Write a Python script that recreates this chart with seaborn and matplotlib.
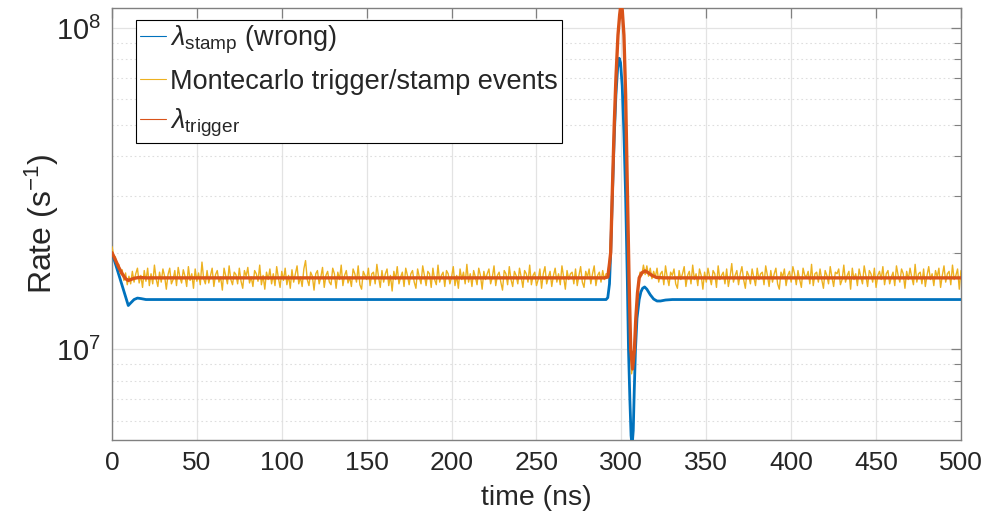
import numpy as np
import matplotlib
matplotlib.use("Agg")
import matplotlib.pyplot as plt
from matplotlib.ticker import LogLocator, LogFormatterMathtext, NullFormatter, MultipleLocator
import seaborn as sns

# ---- data (rates in units of 1e6 s^-1, time in ns) ----
# lambda_stamp (wrong) model curve
stamp_time = [0, 2, 4, 6, 8, 9.6, 11, 13, 15, 17, 20,
              290, 291, 292, 293, 293.7, 294.6, 295.8, 296.8, 297.8, 298.7,
              299.5, 300.5, 301.5, 302.5, 303.5, 304.2, 305, 305.7, 306.3, 307,
              307.6, 308.3, 309.2, 310.5, 311.5, 312.5, 313.7, 315, 317, 319,
              321, 323, 326, 330, 500]
stamp_rate = [20.0, 18.5, 17.1, 15.8, 14.6, 13.7, 13.95, 14.3, 14.45, 14.4, 14.3,
              14.3, 14.3, 14.5, 16.0, 20.0, 29.0, 46.0, 62.0, 75.0, 80.5,
              78.0, 66.0, 47.0, 30.0, 16.5, 10.0, 7.0, 5.4, 5.0, 5.6,
              7.5, 10.0, 12.5, 14.3, 15.1, 15.5, 15.65, 15.4, 14.8, 14.35,
              14.15, 14.15, 14.25, 14.3, 14.3]

# lambda_trigger model curve
trigger_time = [0, 2, 4, 6, 8, 9.6, 11, 13, 16, 20,
                290, 292, 293, 293.7, 294.6, 295.8, 296.8, 298, 299, 299.7,
                300.5, 301.5, 302.5, 303.6, 304.5, 305.5, 306.6, 307.7, 308.5, 309.5,
                310.5, 312, 314, 316, 318, 320.7, 325, 500]
trigger_rate = [20.0, 19.0, 18.0, 17.2, 16.6, 16.4, 16.5, 16.65, 16.75, 16.7,
                16.7, 16.8, 18.5, 20.0, 30.0, 50.0, 70.0, 95.0, 110.0, 118.0,
                114.0, 95.0, 62.0, 30.0, 16.7, 10.0, 8.7, 10.0, 12.5, 15.0,
                16.7, 17.3, 17.55, 17.3, 17.0, 16.75, 16.7, 16.7]

# Montecarlo trigger/stamp event rate, one sample per ns (t = 0 ... 500)
mc_rate = [
    # 0-19
    20.9, 19.6, 19.4, 18.3, 18.4, 17.2, 17.7, 16.4, 17.3, 15.9, 16.9, 16.0, 17.5, 16.2, 17.2, 17.9, 16.1, 17.0, 15.6, 17.6,
    # 20-39
    16.3, 17.9, 15.8, 17.2, 16.0, 18.3, 16.6, 15.7, 17.4, 16.2, 17.8, 16.9, 15.4, 17.1, 17.9, 16.0, 16.5, 17.6, 15.8, 18.0,
    # 40-59
    16.8, 16.1, 17.7, 16.9, 15.7, 18.1, 16.4, 17.2, 15.5, 17.8, 16.3, 17.3, 15.9, 18.7, 16.6, 16.0, 17.6, 16.1, 17.0, 17.9,
    # 60-79
    15.7, 17.1, 17.6, 16.2, 16.8, 15.3, 17.9, 16.9, 16.0, 18.2, 16.5, 15.9, 17.4, 17.1, 16.0, 17.9, 16.3, 15.5, 17.6, 16.9,
    # 80-99
    18.0, 16.1, 16.8, 15.7, 17.6, 17.2, 16.3, 18.3, 15.9, 17.0, 15.4, 17.4, 16.5, 17.8, 16.0, 17.2, 15.8, 18.1, 16.7, 15.6,
    # 100-119
    17.5, 16.4, 17.9, 15.9, 17.0, 15.5, 17.7, 16.2, 17.2, 18.2, 16.0, 16.8, 15.7, 17.8, 18.9, 16.5, 15.8, 17.4, 16.9, 15.3,
    # 120-139
    17.2, 17.6, 16.0, 16.8, 18.0, 15.6, 17.0, 17.5, 16.2, 15.9, 17.9, 17.2, 15.5, 17.4, 16.5, 18.3, 15.8, 17.0, 17.6, 16.1,
    # 140-159
    16.8, 15.7, 17.8, 17.2, 16.2, 18.2, 15.9, 15.4, 17.5, 17.0, 16.5, 17.9, 15.8, 17.2, 17.4, 16.0, 18.4, 16.8, 15.6, 17.6,
    # 160-179
    16.2, 17.2, 17.8, 15.8, 17.0, 15.2, 17.5, 16.5, 18.1, 16.0, 16.8, 17.4, 15.7, 17.9, 17.0, 15.9, 17.2, 17.6, 16.2, 15.5,
    # 180-199
    17.8, 16.8, 16.0, 18.2, 17.0, 15.8, 17.5, 17.2, 15.6, 17.9, 16.5, 15.9, 18.3, 16.2, 17.0, 17.4, 15.7, 17.6, 17.2, 16.0,
    # 200-219
    16.8, 18.1, 15.8, 17.0, 15.5, 17.8, 16.5, 17.4, 16.0, 18.4, 16.2, 17.2, 15.7, 17.6, 16.8, 15.9, 17.9, 17.0, 15.4, 17.5,
    # 220-239
    16.5, 17.2, 17.8, 16.0, 16.8, 18.2, 15.8, 17.0, 17.4, 16.2, 15.3, 17.6, 17.2, 15.9, 18.1, 16.5, 15.7, 17.5, 17.0, 16.0,
    # 240-259
    17.9, 16.8, 15.6, 17.6, 17.2, 16.2, 18.3, 15.9, 17.0, 17.4, 15.8, 16.5, 17.8, 15.5, 17.2, 18.1, 16.0, 16.8, 17.5, 15.7,
    # 260-279
    17.0, 17.9, 16.2, 17.2, 15.9, 18.2, 16.8, 15.4, 17.6, 16.5, 17.2, 17.4, 16.0, 17.8, 15.8, 17.0, 18.1, 16.2, 15.6, 17.5,
    # 280-291
    16.8, 17.8, 16.0, 17.2, 18.2, 15.8, 17.0, 17.4, 16.2, 17.6, 16.5, 17.2,
    # 292-312
    17.2, 18.9, 23.8, 36.1, 54.9, 73.6, 96.1, 110.8, 115.9, 103.7, 79.2, 46.9, 24.5, 13.1, 8.4, 9.1, 11.2, 13.5, 16.1, 17.4, 17.0,
    # 313-319
    18.3, 17.1, 18.2, 16.9, 17.9, 16.6, 17.5,
    # 320-339
    16.8, 17.9, 16.2, 17.2, 17.5, 15.9, 18.2, 16.8, 15.8, 17.4, 17.0, 17.8, 16.0, 15.5, 17.6, 16.5, 17.2, 18.1, 15.7, 17.0,
    # 340-359
    17.5, 16.0, 18.3, 16.5, 17.2, 15.8, 17.8, 17.0, 15.4, 17.4, 16.2, 17.9, 16.8, 15.9, 17.6, 17.2, 15.6, 18.2, 16.5, 17.0,
    # 360-379
    17.4, 16.0, 17.8, 15.7, 16.8, 18.5, 16.2, 17.0, 17.6, 15.9, 17.2, 18.1, 16.5, 15.5, 17.5, 17.0, 16.0, 17.8, 16.8, 15.8,
    # 380-399
    17.9, 16.5, 17.2, 17.4, 15.9, 18.2, 17.0, 15.7, 17.6, 16.2, 17.2, 17.9, 16.0, 15.4, 17.4, 16.8, 17.8, 15.8, 17.0, 17.5,
    # 400-419
    16.2, 18.1, 17.2, 15.9, 17.6, 16.5, 15.6, 17.9, 17.0, 16.8, 17.5, 16.0, 18.4, 15.8, 17.2, 17.4, 16.2, 17.8, 16.5, 15.5,
    # 420-439
    17.6, 17.0, 16.0, 18.1, 16.8, 15.7, 17.4, 17.2, 17.8, 15.9, 16.5, 18.3, 16.2, 17.0, 17.5, 15.4, 17.9, 16.5, 17.2, 15.8,
    # 440-459
    17.8, 16.8, 16.0, 18.2, 17.0, 15.7, 17.6, 17.2, 16.2, 17.9, 15.6, 17.0, 17.5, 16.5, 18.1, 15.9, 17.2, 17.6, 16.0, 16.8,
    # 460-479
    17.4, 15.8, 18.2, 17.0, 16.2, 17.8, 17.2, 15.5, 17.5, 16.5, 17.9, 16.8, 15.9, 18.4, 16.2, 17.2, 17.4, 16.0, 17.8, 15.7,
    # 480-500
    17.0, 18.1, 16.5, 17.2, 15.8, 17.6, 16.8, 17.9, 15.6, 17.0, 18.2, 16.2, 17.2, 17.5, 15.9, 18.3, 16.5, 17.0, 17.8, 15.4, 17.6,
]
mc_time = np.arange(len(mc_rate))

labels = [r"$\lambda_{\mathrm{stamp}}$ (wrong)",
          "Montecarlo trigger/stamp events",
          r"$\lambda_{\mathrm{trigger}}$"]
colors = ["#0072BD", "#EDB120", "#D95319"]

UNIT = 1e6

# ---- style ----
sns.set_theme(style="white")
plt.rcParams["font.family"] = ["Liberation Sans", "DejaVu Sans"]
plt.rcParams["mathtext.fontset"] = "custom"
plt.rcParams["mathtext.rm"] = "Liberation Sans"
plt.rcParams["mathtext.it"] = "Liberation Sans:italic"
plt.rcParams["mathtext.bf"] = "Liberation Sans:bold"

fig = plt.figure(figsize=(9.98, 5.21), dpi=100)
ax = fig.add_axes([0.1122, 0.1555, 0.8507, 0.8292])

sns.lineplot(x=stamp_time, y=np.array(stamp_rate) * UNIT, ax=ax, color=colors[0],
             linewidth=2.0, label=labels[0], zorder=3)
sns.lineplot(x=mc_time, y=np.array(mc_rate) * UNIT, ax=ax, color=colors[1],
             linewidth=1.0, label=labels[1], zorder=4)
sns.lineplot(x=trigger_time, y=np.array(trigger_rate) * UNIT, ax=ax, color=colors[2],
             linewidth=2.4, label=labels[2], zorder=5)

ax.set_yscale("log")
ax.set_xlim(0, 500)
ax.set_ylim(5.23e6, 1.154e8)

ax.xaxis.set_major_locator(MultipleLocator(50))
ax.yaxis.set_major_locator(LogLocator(base=10, numticks=10))
ax.yaxis.set_major_formatter(LogFormatterMathtext())
ax.yaxis.set_minor_locator(LogLocator(base=10, subs=np.arange(2, 10), numticks=20))
ax.yaxis.set_minor_formatter(NullFormatter())

# grid: solid major lines, dotted minor lines on the log axis
ax.grid(True, which="major", color="#e3e3e3", linewidth=0.9, linestyle="-", zorder=0)
ax.grid(True, which="minor", axis="y", color="#dedede", linewidth=0.8,
        linestyle=(0, (1.5, 2.5)), zorder=0)
ax.set_axisbelow(True)

for s in ax.spines.values():
    s.set_color("#808080")
    s.set_linewidth(1.0)

ax.tick_params(which="both", direction="in", top=True, right=True,
               colors="#808080", labelcolor="#262626")
ax.tick_params(which="major", length=7, width=0.9, pad=8)
ax.tick_params(axis="x", which="major", labelsize=19)
ax.tick_params(axis="y", which="major", labelsize=21)
ax.tick_params(which="minor", length=5, width=0.8)

ax.set_xlabel("time (ns)", fontsize=20.5, color="#262626", labelpad=7)
ax.set_ylabel(r"Rate (s$^{-1}$)", fontsize=23, color="#262626", labelpad=-4)

leg = ax.legend(loc="upper left", bbox_to_anchor=(0.0283, 0.972), borderaxespad=0,
                fontsize=19.5, frameon=True, fancybox=False, framealpha=1,
                edgecolor="black", handlelength=0.95, handletextpad=0.15,
                borderpad=0.15, labelspacing=0.45)
leg.get_frame().set_linewidth(0.8)
for line in leg.get_lines():
    line.set_linewidth(0.8)

fig.savefig("out.png", dpi=100)
